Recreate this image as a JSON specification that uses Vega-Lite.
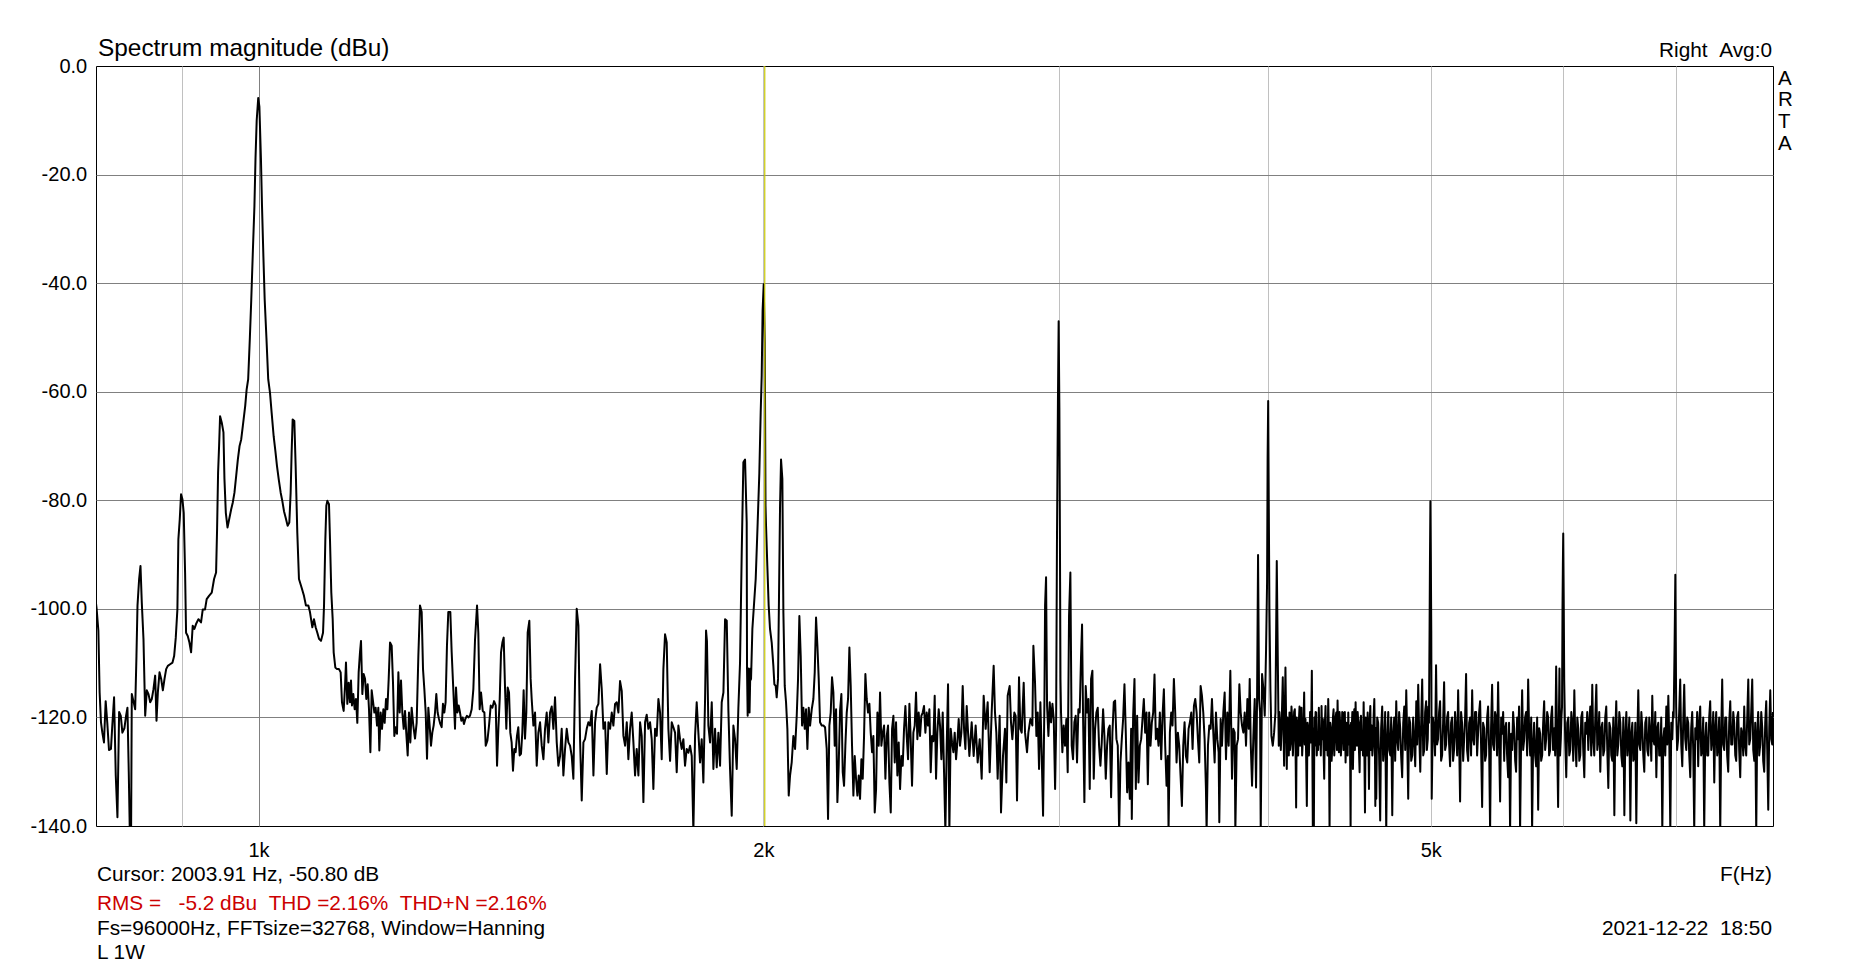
{
  "$schema": "https://vega.github.io/schema/vega-lite/v6.json",
  "width": 1677,
  "height": 760,
  "autosize": {"type": "none"},
  "padding": {"left": 96, "top": 66, "right": 95, "bottom": 143},
  "background": "#ffffff",
  "config": {
    "view": {"stroke": "#000000", "strokeWidth": 1},
    "font": "Liberation Sans",
    "axis": {"labelFont": "Liberation Sans", "labelColor": "#000000", "domain": false, "ticks": false, "tickSize": 0, "title": null, "gridWidth": 1},
    "text": {"font": "Liberation Sans", "color": "#000000"}
  },
  "datasets": {
    "spectrum": [
      {"f":800.0,"v":-99},{"f":800.7,"v":-100},{"f":802.6,"v":-104},{"f":804.0,"v":-115.4},{"f":805.5,"v":-120.9},{"f":807.0,"v":-122.8},{"f":808.8,"v":-124.6},{"f":810.7,"v":-117},{"f":812.5,"v":-121},{"f":814.4,"v":-126},{"f":816.6,"v":-125.8},{"f":818.1,"v":-121.5},{"f":820.1,"v":-116.3},{"f":822.0,"v":-130.7},{"f":823.9,"v":-138.4},{"f":825.8,"v":-119},{"f":827.7,"v":-119.7},{"f":829.5,"v":-122.8},{"f":831.8,"v":-122},{"f":833.7,"v":-119.7},{"f":835.3,"v":-118.2},{"f":836.8,"v":-130},{"f":838.0,"v":-141},{"f":839.5,"v":-141},{"f":840.3,"v":-115.7},{"f":842.2,"v":-117},{"f":844.2,"v":-118.5},{"f":845.7,"v":-108.7},{"f":846.9,"v":-99.4},{"f":848.8,"v":-94.5},{"f":850.4,"v":-92.1},{"f":851.9,"v":-98.8},{"f":853.9,"v":-105.6},{"f":855.9,"v":-119.7},{"f":857.8,"v":-115},{"f":859.8,"v":-115.7},{"f":861.8,"v":-117.2},{"f":863.7,"v":-116.6},{"f":865.7,"v":-114.8},{"f":867.7,"v":-112.3},{"f":869.3,"v":-120.6},{"f":870.9,"v":-115.4},{"f":872.9,"v":-111.7},{"f":874.9,"v":-112.9},{"f":876.9,"v":-115},{"f":878.9,"v":-112.9},{"f":880.9,"v":-111.1},{"f":882.9,"v":-110.5},{"f":885.7,"v":-110.2},{"f":888.6,"v":-109.9},{"f":890.6,"v":-108.7},{"f":892.6,"v":-105.3},{"f":894.6,"v":-100.1},{"f":895.8,"v":-87.2},{"f":897.5,"v":-83.5},{"f":899.1,"v":-78.9},{"f":900.8,"v":-79.8},{"f":902.4,"v":-82.3},{"f":904.1,"v":-93.3},{"f":905.3,"v":-104.4},{"f":907.4,"v":-105},{"f":909.5,"v":-106.2},{"f":911.6,"v":-108},{"f":913.6,"v":-103.1},{"f":915.7,"v":-103.7},{"f":917.8,"v":-102.8},{"f":920.8,"v":-101.9},{"f":924.1,"v":-102.5},{"f":926.3,"v":-100.1},{"f":929.2,"v":-100.1},{"f":931.3,"v":-98.2},{"f":934.3,"v":-97.6},{"f":937.8,"v":-97},{"f":940.8,"v":-94.5},{"f":943.4,"v":-93.3},{"f":944.7,"v":-85.3},{"f":946.0,"v":-74.9},{"f":947.3,"v":-70},{"f":948.6,"v":-64.5},{"f":950.8,"v":-65.7},{"f":953.0,"v":-67.5},{"f":954.3,"v":-76.1},{"f":956.1,"v":-82.3},{"f":958.3,"v":-85},{"f":960.5,"v":-83.5},{"f":963.1,"v":-81.7},{"f":965.3,"v":-80.4},{"f":967.5,"v":-78.6},{"f":969.8,"v":-75.5},{"f":972.0,"v":-72.5},{"f":974.3,"v":-70},{"f":976.5,"v":-68.8},{"f":978.7,"v":-66.3},{"f":981.9,"v":-62.6},{"f":983.8,"v":-59.6},{"f":985.9,"v":-57.7},{"f":988.2,"v":-50},{"f":990.1,"v":-43},{"f":992.3,"v":-34},{"f":994.4,"v":-25.8},{"f":995.9,"v":-16.9},{"f":997.5,"v":-10},{"f":999.6,"v":-5.9},{"f":1001.2,"v":-7.5},{"f":1003.3,"v":-16.9},{"f":1004.8,"v":-25.8},{"f":1006.7,"v":-35},{"f":1008.5,"v":-43},{"f":1010.9,"v":-50},{"f":1013.4,"v":-57.7},
      {"f":1015.9,"v":-60.2},{"f":1018.2,"v":-63.9},{"f":1021.0,"v":-68.2},{"f":1023.4,"v":-70.9},{"f":1025.7,"v":-73.7},{"f":1028.1,"v":-76.1},{"f":1030.9,"v":-78.6},{"f":1033.2,"v":-80.1},{"f":1035.6,"v":-82},{"f":1038.0,"v":-83.2},{"f":1040.8,"v":-84.7},{"f":1043.2,"v":-84.1},{"f":1045.1,"v":-78.6},{"f":1046.5,"v":-71.2},{"f":1048.0,"v":-65.1},{"f":1050.4,"v":-65.4},{"f":1052.3,"v":-73.7},{"f":1054.7,"v":-86},{"f":1057.1,"v":-94.5},{"f":1061.0,"v":-96.1},{"f":1064.4,"v":-97.6},{"f":1067.3,"v":-99.4},{"f":1070.8,"v":-99.4},{"f":1073.2,"v":-100.6},{"f":1076.7,"v":-103.4},{"f":1079.1,"v":-101.9},{"f":1081.6,"v":-103.4},{"f":1084.1,"v":-104.4},{"f":1086.6,"v":-105.5},{"f":1089.6,"v":-105.9},{"f":1092.6,"v":-104.4},{"f":1094.1,"v":-99.4},{"f":1096.1,"v":-87.2},{"f":1097.6,"v":-81},{"f":1099.1,"v":-80.1},{"f":1101.6,"v":-80.7},{"f":1103.1,"v":-87.2},{"f":1105.1,"v":-97},{"f":1107.2,"v":-101.9},{"f":1108.7,"v":-108},{"f":1111.2,"v":-110.8},{"f":1113.8,"v":-111.1},{"f":1116.8,"v":-111.1},{"f":1119.4,"v":-111.7},{"f":1121.4,"v":-117.2},{"f":1124.0,"v":-118.8},{"f":1126.1,"v":-114.2},{"f":1127.6,"v":-109.9},{"f":1129.7,"v":-117.5},{"f":1131.8,"v":-113.6},{"f":1133.8,"v":-117.2},{"f":1135.4,"v":-113.2},{"f":1136.9,"v":-117.8},{"f":1139.0,"v":-115.7},{"f":1141.1,"v":-118.5},{"f":1143.2,"v":-116.6},{"f":1145.3,"v":-121},{"f":1147.4,"v":-111.7},{"f":1149.5,"v":-108},{"f":1151.1,"v":-105.9},{"f":1153.2,"v":-115.7},{"f":1155.3,"v":-112},{"f":1157.5,"v":-112.9},{"f":1159.5,"v":-116.6},{"f":1161.7,"v":-113.9},{"f":1163.8,"v":-118.5},{"f":1166.0,"v":-126.4},{"f":1168.1,"v":-115},{"f":1170.2,"v":-117},{"f":1172.4,"v":-119.1},{"f":1174.5,"v":-118.2},{"f":1176.7,"v":-121.5},{"f":1178.8,"v":-118.2},{"f":1180.4,"v":-126.1},{"f":1182.6,"v":-119.1},{"f":1184.8,"v":-122.1},{"f":1187.0,"v":-118.5},{"f":1189.1,"v":-121},{"f":1191.3,"v":-116.6},{"f":1193.5,"v":-118.5},{"f":1195.7,"v":-112.9},{"f":1197.9,"v":-106.2},{"f":1200.6,"v":-106.8},{"f":1202.8,"v":-113.6},{"f":1205.0,"v":-123.4},{"f":1207.2,"v":-121.8},{"f":1209.4,"v":-123},{"f":1211.7,"v":-111.7},{"f":1213.9,"v":-119.1},{"f":1216.1,"v":-113.2},{"f":1218.3,"v":-119.1},{"f":1220.6,"v":-122.1},{"f":1222.8,"v":-118.8},{"f":1225.0,"v":-123},{"f":1227.3,"v":-127},{"f":1229.5,"v":-119.1},{"f":1231.8,"v":-124.6},{"f":1234.0,"v":-118.2},{"f":1236.8,"v":-121.5},{"f":1239.7,"v":-123.9},{"f":1242.5,"v":-121},{"f":1245.4,"v":-108.7},{"f":1248.2,"v":-99.4},{"f":1251.1,"v":-100.6},{"f":1253.4,"v":-111.1},{"f":1255.7,"v":-114.8},{"f":1258.0,"v":-119.1},{"f":1260.3,"v":-127.6},{"f":1262.6,"v":-118.2},{"f":1264.9,"v":-121.5},{"f":1267.2,"v":-125.2},{"f":1269.5,"v":-122.8},{"f":1271.8,"v":-121.5},{"f":1274.2,"v":-119.1},{"f":1276.5,"v":-115.7},{"f":1278.8,"v":-119.1},{"f":1281.2,"v":-120.3},{"f":1283.5,"v":-121.2},{"f":1285.9,"v":-121.8},{"f":1288.2,"v":-117.5},{"f":1290.6,"v":-119.1},{"f":1292.9,"v":-117.2},{"f":1295.3,"v":-106.8},{"f":1297.7,"v":-100.6},{"f":1301.3,"v":-100.6},{"f":1303.7,"v":-108},{"f":1306.7,"v":-115},{"f":1309.7,"v":-122.1},{"f":1311.5,"v":-114.5},{"f":1313.9,"v":-119.1},{"f":1316.3,"v":-117.8},{"f":1318.7,"v":-119.1},{"f":1321.1,"v":-120.6},{"f":1323.5,"v":-120},{"f":1325.9,"v":-121.2},{"f":1328.4,"v":-120.3},{"f":1331.4,"v":-119.7},{"f":1333.9,"v":-120},{"f":1336.9,"v":-119.7},{"f":1340.0,"v":-118.5},{"f":1343.1,"v":-114.8},{"f":1346.2,"v":-105.6},{"f":1349.9,"v":-99.4},{"f":1352.3,"v":-104.4},{"f":1354.8,"v":-118.5},{"f":1357.3,"v":-115.4},{"f":1360.5,"v":-118.8},{"f":1363.6,"v":-119.1},{"f":1366.1,"v":-125.2},{"f":1369.2,"v":-124.3},{"f":1372.3,"v":-121.5},{"f":1375.5,"v":-117.8},{"f":1378.6,"v":-118.2},{"f":1381.8,"v":-117},{"f":1385.0,"v":-117.8},{"f":1387.5,"v":-128.9},{"f":1390.0,"v":-122.1},{"f":1392.6,"v":-116.6},{"f":1395.1,"v":-108},{"f":1397.7,"v":-106.2},{"f":1400.2,"v":-105.3},{"f":1402.7,"v":-114.2},{"f":1405.3,"v":-122.1},{"f":1407.9,"v":-114.5},{"f":1410.5,"v":-115.4},{"f":1413.0,"v":-122.8},{"f":1415.6,"v":-124.6},{"f":1418.2,"v":-129.8},{"f":1420.8,"v":-125.8},{"f":1423.4,"v":-126.4},{"f":1426.0,"v":-123.4},{"f":1428.6,"v":-121.8},{"f":1431.3,"v":-127},{"f":1433.9,"v":-126.7},{"f":1436.5,"v":-122.8},{"f":1439.1,"v":-115},{"f":1441.8,"v":-123.9},{"f":1444.4,"v":-119.1},{"f":1447.1,"v":-104.4},{"f":1450.4,"v":-102.2},{"f":1453.0,"v":-112.9},
      {"f":1455.1,"v":-116.6},{"f":1458.5,"v":-121.5},{"f":1461.8,"v":-119.1},{"f":1465.2,"v":-128.9},{"f":1468.5,"v":-122.8},{"f":1471.9,"v":-120.9},{"f":1475.3,"v":-125.2},{"f":1478.7,"v":-127.7},{"f":1482.0,"v":-122.1},{"f":1485.4,"v":-119.1},{"f":1488.8,"v":-124.6},{"f":1492.2,"v":-119.1},{"f":1495.7,"v":-118},{"f":1499.1,"v":-122.1},{"f":1502.5,"v":-116.3},{"f":1506.0,"v":-124.6},{"f":1509.4,"v":-128.9},{"f":1512.9,"v":-127.1},{"f":1516.3,"v":-122.1},{"f":1519.8,"v":-130.7},{"f":1523.3,"v":-125.8},{"f":1526.8,"v":-122.1},{"f":1530.3,"v":-124.6},{"f":1533.8,"v":-125.2},{"f":1537.3,"v":-127.1},{"f":1540.8,"v":-131.3},{"f":1544.4,"v":-112.9},{"f":1547.9,"v":-100},{"f":1551.5,"v":-103.1},{"f":1555.0,"v":-124},{"f":1558.6,"v":-135.3},{"f":1562.2,"v":-124.6},{"f":1565.7,"v":-124},{"f":1569.3,"v":-122.1},{"f":1572.9,"v":-120.9},{"f":1576.5,"v":-121.5},{"f":1580.2,"v":-118.8},{"f":1583.8,"v":-130.7},{"f":1587.4,"v":-120.9},{"f":1591.0,"v":-118.2},{"f":1594.7,"v":-117.5},{"f":1598.4,"v":-110.2},{"f":1602.0,"v":-114.8},{"f":1605.7,"v":-122.1},{"f":1609.4,"v":-120.9},{"f":1613.1,"v":-130.4},{"f":1616.8,"v":-120.9},{"f":1620.5,"v":-122.1},{"f":1624.2,"v":-119.1},{"f":1627.8,"v":-121.5},{"f":1631.6,"v":-117.5},{"f":1635.3,"v":-117.2},{"f":1639.1,"v":-119.1},{"f":1642.8,"v":-113.3},{"f":1646.6,"v":-115.1},{"f":1650.4,"v":-123.4},{"f":1654.2,"v":-125.2},{"f":1658.0,"v":-120.9},{"f":1661.7,"v":-127.7},{"f":1665.5,"v":-122.1},{"f":1669.3,"v":-119.1},{"f":1673.2,"v":-124.6},{"f":1677.0,"v":-130.7},{"f":1680.8,"v":-125.8},{"f":1684.7,"v":-130.7},{"f":1688.6,"v":-120.9},{"f":1692.4,"v":-123.4},{"f":1696.3,"v":-135.6},{"f":1700.2,"v":-120.9},{"f":1704.0,"v":-119.5},{"f":1707.9,"v":-122.1},{"f":1711.9,"v":-120.9},{"f":1715.8,"v":-124},{"f":1719.7,"v":-133.2},{"f":1723.7,"v":-122.1},{"f":1727.6,"v":-123.4},{"f":1731.6,"v":-116.6},{"f":1735.6,"v":-119.1},{"f":1739.5,"v":-127.7},{"f":1743.5,"v":-111.1},{"f":1747.5,"v":-104.7},{"f":1751.5,"v":-106.2},{"f":1755.5,"v":-122.1},{"f":1759.6,"v":-128},{"f":1763.6,"v":-120.9},{"f":1767.6,"v":-121.8},{"f":1771.7,"v":-122.8},{"f":1775.7,"v":-130.1},{"f":1779.8,"v":-121.5},{"f":1783.8,"v":-124},{"f":1787.9,"v":-125.8},{"f":1792.0,"v":-124},{"f":1796.1,"v":-128.9},{"f":1800.2,"v":-125.8},{"f":1804.4,"v":-126.5},{"f":1808.5,"v":-125.2},{"f":1812.7,"v":-127.1},{"f":1816.8,"v":-141},{"f":1821.0,"v":-123.4},{"f":1825.1,"v":-117.2},{"f":1829.3,"v":-122.8},{"f":1833.5,"v":-128.3},{"f":1837.7,"v":-124},{"f":1841.9,"v":-132},{"f":1846.2,"v":-116.6},{"f":1848.7,"v":-104},{"f":1851.0,"v":-106},{"f":1854.6,"v":-121.5},{"f":1858.9,"v":-124.6},{"f":1863.2,"v":-117.2},{"f":1867.4,"v":-129.5},{"f":1871.7,"v":-122.1},{"f":1876.0,"v":-129.2},{"f":1880.3,"v":-122.8},{"f":1884.6,"v":-128.9},{"f":1888.9,"v":-117.2},{"f":1893.3,"v":-115.4},{"f":1897.6,"v":-101.9},{"f":1902.0,"v":-102.2},{"f":1906.3,"v":-118.8},{"f":1910.6,"v":-129.5},{"f":1915.0,"v":-138.1},{"f":1919.4,"v":-121.5},{"f":1923.8,"v":-124},{"f":1928.2,"v":-129.5},{"f":1932.6,"v":-118.2},{"f":1937.0,"v":-109.9},{"f":1941.5,"v":-89.6},{"f":1945.9,"v":-73},{"f":1950.4,"v":-72.5},{"f":1954.8,"v":-84.1},{"f":1955.7,"v":-111.1},{"f":1957.4,"v":-119.7},{"f":1959.3,"v":-111},{"f":1962.5,"v":-119.1},{"f":1964.7,"v":-111},{"f":1966.5,"v":-113},{"f":1970.1,"v":-103.7},{"f":1979.1,"v":-94.5},{"f":1984.5,"v":-84.1},{"f":1989.0,"v":-75},{"f":1992.7,"v":-63.9},{"f":1995.5,"v":-57},{"f":1998.0,"v":-45},{"f":2001.0,"v":-40.2},{"f":2003.9,"v":-50.8},{"f":2006.0,"v":-81},{"f":2007.4,"v":-84.7},{"f":2011.0,"v":-92.1},{"f":2014.7,"v":-99.4},{"f":2018.4,"v":-103.7},{"f":2023.1,"v":-106.2},{"f":2027.7,"v":-110.5},{"f":2030.5,"v":-113.9},{"f":2034.2,"v":-114.2},{"f":2037.0,"v":-116.3},{"f":2040.7,"v":-112.9},{"f":2043.5,"v":-97.6},{"f":2046.4,"v":-81},{"f":2049.2,"v":-72.5},{"f":2052.9,"v":-76.1},{"f":2055.8,"v":-100.7},{"f":2059.6,"v":-114.2},{"f":2063.3,"v":-117.2},{"f":2067.1,"v":-122.1},{"f":2070.9,"v":-134.4},{"f":2074.7,"v":-130.7},{"f":2079.4,"v":-128.3},{"f":2084.2,"v":-123.4},{"f":2089.0,"v":-125.8},{"f":2093.8,"v":-119.7},{"f":2097.6,"v":-112.9},{"f":2101.4,"v":-101.3},{"f":2105.3,"v":-108.7},{"f":2109.2,"v":-121.5},{"f":2113.0,"v":-118.2},{"f":2116.9,"v":-122.1},{"f":2120.8,"v":-118.5},{"f":2124.7,"v":-125.8},{"f":2128.6,"v":-118.2},{"f":2132.5,"v":-121.5},{"f":2137.4,"v":-118.5},{"f":2142.2,"v":-116.6},{"f":2146.2,"v":-111.7},{"f":2150.1,"v":-101.6},{"f":2154.1,"v":-106.8},{"f":2158.0,"v":-112.9},{"f":2161.9,"v":-120.9},{"f":2166.9,"v":-121.5},{"f":2171.9,"v":-121.5},{"f":2176.8,"v":-121.8},{"f":2181.8,"v":-125.8},{"f":2185.8,"v":-138.7},{"f":2189.8,"v":-121.5},{"f":2193.8,"v":-119.1},{"f":2197.8,"v":-112.6},{"f":2201.9,"v":-115.4},{"f":2205.9,"v":-125.2},{"f":2210.0,"v":-118.5},{"f":2214.0,"v":-135.6},{"f":2218.0,"v":-128.9},{"f":2222.1,"v":-118.8},{"f":2226.2,"v":-115.7},{"f":2230.3,"v":-130.1},{"f":2234.4,"v":-132.6},{"f":2238.4,"v":-125.2},{"f":2242.6,"v":-119.1},{"f":2246.7,"v":-116.6},{"f":2250.8,"v":-107.1},{"f":2254.9,"v":-114.2},{"f":2259.0,"v":-125.2},{"f":2263.2,"v":-134.4},{"f":2267.4,"v":-127.1},{"f":2271.5,"v":-131.3},{"f":2275.7,"v":-134.4},{"f":2279.8,"v":-130.7},{"f":2284.0,"v":-135},{"f":2288.2,"v":-127.7},{"f":2292.4,"v":-131.3},{"f":2296.6,"v":-123.4},{"f":2300.8,"v":-112},{"f":2305.0,"v":-116.6},{"f":2309.2,"v":-119.1},{"f":2313.5,"v":-117.5},{"f":2317.7,"v":-122.8},{"f":2322.0,"v":-126.4},{"f":2326.2,"v":-123.4},{"f":2330.5,"v":-137.5},{"f":2334.8,"v":-133.2},{"f":2339.1,"v":-119.1},{"f":2343.4,"v":-125.2},{"f":2347.6,"v":-115.4},{"f":2351.9,"v":-125.2},{"f":2356.3,"v":-122.8},{"f":2360.6,"v":-121.5},{"f":2364.9,"v":-131.3},{"f":2369.2,"v":-123.4},{"f":2373.5,"v":-121.5},{"f":2377.9,"v":-132},{"f":2382.3,"v":-137.5},{"f":2386.6,"v":-122.1},{"f":2391.0,"v":-119.7},{"f":2395.4,"v":-128.3},{"f":2399.7,"v":-120.9},{"f":2404.1,"v":-130.7},{"f":2408.5,"v":-124.6},{"f":2413.0,"v":-133.2},{"f":2417.4,"v":-127.1},{"f":2421.8,"v":-128.9},{"f":2426.2,"v":-122.1},{"f":2430.7,"v":-117.9},{"f":2435.1,"v":-123.4},{"f":2439.6,"v":-127.7},{"f":2444.1,"v":-117.5},{"f":2448.5,"v":-124},{"f":2453.0,"v":-132.6},{"f":2457.5,"v":-122.8},{"f":2462.0,"v":-121.5},{"f":2466.5,"v":-115.4},{"f":2471.0,"v":-124},{"f":2475.5,"v":-119.1},{"f":2480.1,"v":-123.4},{"f":2484.6,"v":-119.7},{"f":2489.2,"v":-119.1},{"f":2493.7,"v":-117.9},{"f":2498.3,"v":-122.8},{"f":2502.9,"v":-119.1},{"f":2507.5,"v":-121.5},{"f":2512.1,"v":-118.5},{"f":2516.7,"v":-130.1},{"f":2521.3,"v":-123.4},{"f":2525.9,"v":-124.4},{"f":2530.5,"v":-116},{"f":2535.2,"v":-131.3},{"f":2539.8,"v":-122.8},{"f":2544.5,"v":-118.5},{"f":2549.1,"v":-121.5},{"f":2553.8,"v":-127.7},{"f":2558.5,"v":-119.1},{"f":2563.2,"v":-130.1},{"f":2567.9,"v":-141},{"f":2572.6,"v":-125.2},{"f":2577.3,"v":-113.9},{"f":2582.0,"v":-141},{"f":2586.8,"v":-122.1},{"f":2591.5,"v":-124.6},{"f":2596.2,"v":-126.4},{"f":2601.0,"v":-122.8},{"f":2605.8,"v":-127.7},{"f":2610.5,"v":-124.6},{"f":2615.3,"v":-120.3},{"f":2620.1,"v":-125.2},{"f":2624.9,"v":-122.8},{"f":2629.7,"v":-114.2},{"f":2634.6,"v":-122.1},{"f":2639.4,"v":-125.8},{"f":2644.2,"v":-117.9},{"f":2649.1,"v":-122.8},{"f":2653.9,"v":-127.1},
      {"f":2662.3,"v":-120.9},{"f":2669.6,"v":-127.1},{"f":2676.9,"v":-121.5},{"f":2684.3,"v":-128.3},{"f":2691.7,"v":-124},{"f":2699.1,"v":-131.3},{"f":2706.5,"v":-116},{"f":2713.9,"v":-122.1},{"f":2721.4,"v":-117.2},{"f":2728.9,"v":-130.1},{"f":2736.4,"v":-119.1},{"f":2743.9,"v":-110.5},{"f":2748.9,"v":-119.1},{"f":2754.0,"v":-122.8},{"f":2759.0,"v":-131.3},{"f":2766.6,"v":-119.7},{"f":2771.7,"v":-137.5},{"f":2779.3,"v":-127.1},{"f":2786.9,"v":-122.1},{"f":2792.1,"v":-132},{"f":2797.2,"v":-116},{"f":2804.9,"v":-114.2},{"f":2810.0,"v":-120.9},{"f":2815.2,"v":-124},{"f":2822.9,"v":-119.1},{"f":2828.1,"v":-119.7},{"f":2833.3,"v":-135.3},{"f":2841.1,"v":-112.6},{"f":2846.3,"v":-122.1},{"f":2851.6,"v":-122.8},{"f":2859.4,"v":-113.6},{"f":2864.7,"v":-122.8},{"f":2872.5,"v":-126.4},{"f":2877.8,"v":-122.8},{"f":2885.7,"v":-120.3},{"f":2893.7,"v":-121.5},{"f":2897.7,"v":-106.8},{"f":2904.3,"v":-113.6},{"f":2909.7,"v":-123.4},{"f":2915.0,"v":-119.1},{"f":2920.3,"v":-129.5},{"f":2925.7,"v":-117.2},{"f":2931.1,"v":-127.1},{"f":2936.5,"v":-138.1},{"f":2941.9,"v":-117.2},{"f":2944.6,"v":-99.4},{"f":2948.6,"v":-94.2},{"f":2952.7,"v":-117.9},{"f":2958.1,"v":-123.4},{"f":2963.5,"v":-117.2},{"f":2969.0,"v":-120.9},{"f":2974.5,"v":-117.5},{"f":2979.9,"v":-120.3},{"f":2985.4,"v":-133.2},{"f":2989.5,"v":-122.1},{"f":2993.0,"v":-88},{"f":2997.0,"v":-62},{"f":3000.0,"v":-47},{"f":3003.0,"v":-63},{"f":3006.0,"v":-95},{"f":3007.5,"v":-113},{"f":3009.8,"v":-119.1},{"f":3015.3,"v":-126.4},{"f":3020.8,"v":-121.5},{"f":3026.4,"v":-125.2},{"f":3031.9,"v":-120.3},{"f":3037.5,"v":-130.1},{"f":3043.1,"v":-101.3},{"f":3048.7,"v":-93.3},{"f":3054.3,"v":-125.2},{"f":3059.8,"v":-127.7},{"f":3065.5,"v":-120.9},{"f":3071.1,"v":-119.7},{"f":3076.7,"v":-128.3},{"f":3082.4,"v":-118.5},{"f":3088.0,"v":-119.1},{"f":3093.7,"v":-108.7},{"f":3098.0,"v":-102.9},{"f":3102.2,"v":-119.7},{"f":3107.9,"v":-135.6},{"f":3113.6,"v":-114.2},{"f":3119.4,"v":-119.1},{"f":3125.1,"v":-116.6},{"f":3130.8,"v":-133.2},{"f":3136.6,"v":-112.9},{"f":3142.3,"v":-111.4},{"f":3148.1,"v":-131.3},{"f":3153.9,"v":-122.1},{"f":3159.6,"v":-119.1},{"f":3165.4,"v":-118.2},{"f":3171.2,"v":-125.2},{"f":3177.1,"v":-128.9},{"f":3182.9,"v":-124.6},{"f":3188.8,"v":-118.5},{"f":3194.6,"v":-123.4},{"f":3200.5,"v":-131.3},{"f":3206.3,"v":-125.2},{"f":3212.2,"v":-122.1},{"f":3218.1,"v":-121.5},{"f":3224.0,"v":-134.7},{"f":3229.9,"v":-122.8},{"f":3235.9,"v":-117.2},{"f":3241.8,"v":-116.9},{"f":3247.7,"v":-124},{"f":3253.7,"v":-125.2},{"f":3259.7,"v":-141},{"f":3265.7,"v":-128.3},{"f":3271.7,"v":-124},{"f":3277.7,"v":-120.3},{"f":3283.7,"v":-113.9},{"f":3289.7,"v":-122.8},{"f":3295.8,"v":-133.8},{"f":3301.8,"v":-128.3},{"f":3307.9,"v":-135},{"f":3314.0,"v":-122.1},{"f":3317.0,"v":-138.7},{"f":3323.1,"v":-119.7},{"f":3329.2,"v":-112.9},{"f":3335.3,"v":-133.2},{"f":3341.4,"v":-119.7},{"f":3347.5,"v":-132},{"f":3353.7,"v":-125.2},{"f":3359.9,"v":-124},{"f":3366.0,"v":-120.3},{"f":3372.2,"v":-116.6},{"f":3378.4,"v":-122.8},{"f":3384.6,"v":-119.1},{"f":3390.8,"v":-132.3},{"f":3397.0,"v":-119.1},{"f":3403.3,"v":-125.2},{"f":3409.5,"v":-120.9},{"f":3415.8,"v":-119.1},{"f":3422.0,"v":-112.1},{"f":3428.3,"v":-124},{"f":3434.6,"v":-122.1},{"f":3440.9,"v":-125.2},{"f":3447.2,"v":-119.1},{"f":3453.6,"v":-127.7},{"f":3459.9,"v":-119.7},{"f":3466.3,"v":-114.8},{"f":3472.6,"v":-125.2},{"f":3479.0,"v":-132.6},{"f":3485.4,"v":-127.1},{"f":3488.6,"v":-141},{"f":3495.0,"v":-122.8},{"f":3501.4,"v":-119.1},{"f":3507.8,"v":-121.5},{"f":3514.3,"v":-112.9},{"f":3520.7,"v":-119.1},{"f":3527.2,"v":-128.3},{"f":3533.7,"v":-122.8},{"f":3540.1,"v":-125.2},{"f":3546.6,"v":-130.7},{"f":3553.2,"v":-136.3},{"f":3559.7,"v":-125.2},{"f":3566.2,"v":-120.9},{"f":3572.8,"v":-127.1},{"f":3579.3,"v":-128.3},{"f":3585.9,"v":-122.1},{"f":3592.5,"v":-120.9},{"f":3599.1,"v":-119.1},{"f":3605.7,"v":-125.8},{"f":3612.3,"v":-117.9},{"f":3618.9,"v":-116.6},{"f":3625.6,"v":-119.1},{"f":3632.2,"v":-124},{"f":3638.9,"v":-128.3},{"f":3645.6,"v":-114.2},{"f":3652.3,"v":-116},{"f":3659.0,"v":-119.1},{"f":3665.7,"v":-124},{"f":3672.4,"v":-133.2},{"f":3675.8,"v":-141},{"f":3682.6,"v":-125.2},{"f":3689.3,"v":-121.5},{"f":3696.1,"v":-122.1},{"f":3702.9,"v":-116.6},{"f":3709.7,"v":-122.8},{"f":3716.5,"v":-128.3},{"f":3723.3,"v":-119.1},{"f":3730.2,"v":-124},{"f":3737.0,"v":-126.4},{"f":3740.4,"v":-139.3},{"f":3747.3,"v":-120.3},{"f":3754.2,"v":-125.2},{"f":3761.1,"v":-119.1},{"f":3768.0,"v":-115.4},{"f":3774.9,"v":-127.7},{"f":3781.8,"v":-119.1},{"f":3788.8,"v":-125.2},{"f":3797.5,"v":-111.4},{"f":3806.2,"v":-131.3},{"f":3813.2,"v":-122.1},{"f":3820.2,"v":-122.8},{"f":3823.7,"v":-141},{"f":3830.7,"v":-125.2},{"f":3837.8,"v":-124},{"f":3844.8,"v":-113.9},{"f":3851.8,"v":-119.1},{"f":3858.9,"v":-121.5},{"f":3866.0,"v":-122.8},{"f":3873.1,"v":-119.1},{"f":3880.2,"v":-125.2},{"f":3887.4,"v":-116.6},{"f":3894.5,"v":-122.1},{"f":3899.9,"v":-112.9},{"f":3905.2,"v":-124.6},{"f":3912.4,"v":-132.6},{"f":3919.6,"v":-123.4},{"f":3926.8,"v":-116.6},{"f":3934.0,"v":-132.9},{"f":3939.4,"v":-116.9},{"f":3944.8,"v":-90.1},{"f":3950.3,"v":-116.6},{"f":3955.7,"v":-119.1},{"f":3959.3,"v":-141},{"f":3966.6,"v":-112},{"f":3973.9,"v":-114.8},{"f":3981.2,"v":-119.7},{"f":3988.5,"v":-107.4},{"f":3994.0,"v":-95},{"f":3997.0,"v":-72},{"f":4000.0,"v":-61.7},{"f":4003.0,"v":-79},{"f":4006.8,"v":-100},{"f":4012.3,"v":-114.8},{"f":4017.9,"v":-123.4},{"f":4025.3,"v":-125.2},{"f":4032.7,"v":-122.8},{"f":4040.1,"v":-119.1},{"f":4047.5,"v":-91.2},{"f":4053.0,"v":-108.7},{"f":4058.6,"v":-125.2},
      {"f":4062,"v":-119},{"f":4066.1,"v":-121.5},{"f":4070,"v":-126},{"f":4073.5,"v":-122.8},{"f":4077,"v":-118},{"f":4081.0,"v":-112.6},{"f":4085,"v":-122},{"f":4088.5,"v":-128.9},{"f":4092,"v":-120},{"f":4096.0,"v":-110.8},{"f":4100,"v":-121},{"f":4103.6,"v":-129.5},{"f":4107,"v":-120},{"f":4111.1,"v":-124},{"f":4115,"v":-127},{"f":4118.7,"v":-119.1},{"f":4122,"v":-126},{"f":4126.2,"v":-124.6},{"f":4130,"v":-118},{"f":4133.8,"v":-120.3},{"f":4138,"v":-127},{"f":4141.4,"v":-124},{"f":4145,"v":-119},{"f":4149.0,"v":-118.5},{"f":4153,"v":-125},{"f":4156.6,"v":-136.6},{"f":4160,"v":-120},{"f":4164.2,"v":-122.8},{"f":4168,"v":-127},{"f":4171.9,"v":-120.9},{"f":4176,"v":-118},{"f":4179.5,"v":-125.2},{"f":4183,"v":-120},{"f":4187.2,"v":-118.2},{"f":4191,"v":-127},{"f":4194.9,"v":-124},{"f":4199,"v":-121},{"f":4202.6,"v":-115.4},{"f":4206,"v":-125},{"f":4210.3,"v":-120.3},{"f":4214,"v":-127},{"f":4218.1,"v":-136.3},{"f":4222,"v":-121},{"f":4225.8,"v":-122.1},{"f":4230,"v":-127},{"f":4233.6,"v":-123.4},{"f":4237,"v":-119},{"f":4241.4,"v":-124.6},{"f":4244,"v":-120},{"f":4247.2,"v":-111.4},{"f":4250,"v":-125},{"f":4253.0,"v":-141},{"f":4256,"v":-122},{"f":4258.9,"v":-141},{"f":4262,"v":-120},{"f":4264.8,"v":-125.2},{"f":4269,"v":-119},{"f":4272.6,"v":-119.1},{"f":4276,"v":-127},{"f":4280.4,"v":-122.8},{"f":4284,"v":-126},{"f":4288.3,"v":-118.2},{"f":4292,"v":-125},{"f":4296.2,"v":-122.1},{"f":4300,"v":-127},{"f":4304.1,"v":-117.9},{"f":4308,"v":-124},{"f":4312.0,"v":-120.3},{"f":4316,"v":-126},{"f":4319.9,"v":-131.3},{"f":4324,"v":-121},{"f":4327.8,"v":-117.9},{"f":4332,"v":-126},{"f":4335.8,"v":-122.8},{"f":4340,"v":-127},{"f":4343.8,"v":-116.6},{"f":4348,"v":-123},{"f":4351.7,"v":-141},{"f":4356,"v":-121},{"f":4359.7,"v":-122.1},{"f":4364,"v":-128},{"f":4367.7,"v":-125.8},{"f":4372,"v":-120},{"f":4375.8,"v":-118.5},{"f":4380,"v":-127},{"f":4383.8,"v":-124},{"f":4388,"v":-120},{"f":4391.9,"v":-119.1},{"f":4396,"v":-126},{"f":4399.9,"v":-116.9},{"f":4404,"v":-124},{"f":4408.0,"v":-126.4},{"f":4412,"v":-119},{"f":4416.1,"v":-121.5},{"f":4420,"v":-127},{"f":4424.2,"v":-124},{"f":4428,"v":-119},{"f":4432.3,"v":-119.1},{"f":4436,"v":-126},{"f":4440.5,"v":-122.8},{"f":4444,"v":-119},{"f":4448.6,"v":-128.3},{"f":4453,"v":-121},{"f":4456.8,"v":-123.4},{"f":4461,"v":-127},{"f":4465.0,"v":-119.1},{"f":4469,"v":-125},{"f":4473.2,"v":-121.5},{"f":4476,"v":-125},{"f":4479.3,"v":-141},{"f":4482,"v":-121},{"f":4485.5,"v":-122.8},{"f":4490,"v":-119},{"f":4493.7,"v":-129.5},{"f":4498,"v":-122},{"f":4502.0,"v":-118.5},{"f":4506,"v":-126},{"f":4510.2,"v":-117.2},{"f":4514,"v":-123},{"f":4518.5,"v":-125.2},{"f":4523,"v":-119},{"f":4526.8,"v":-120.9},{"f":4531,"v":-126},{"f":4535.1,"v":-130.1},{"f":4539,"v":-121},{"f":4543.5,"v":-119.7},{"f":4548,"v":-126},{"f":4551.8,"v":-122.8},{"f":4556,"v":-127},{"f":4560.2,"v":-117.2},{"f":4564,"v":-124},{"f":4568.6,"v":-137.5},{"f":4573,"v":-120},{"f":4577.0,"v":-122.8},{"f":4581,"v":-127},{"f":4585.4,"v":-119.1},{"f":4590,"v":-124},{"f":4593.8,"v":-133.2},{"f":4598,"v":-121},{"f":4602.2,"v":-117.9},{"f":4606,"v":-126},{"f":4610.7,"v":-121.5},{"f":4615,"v":-127},{"f":4619.1,"v":-125.2},{"f":4623,"v":-120},{"f":4627.6,"v":-116.6},{"f":4631,"v":-124},{"f":4634.0,"v":-136.3},{"f":4637,"v":-122},
      {"f":4640,"v":-135},{"f":4646,"v":-120},{"f":4652,"v":-121},{"f":4658,"v":-127},{"f":4665,"v":-139},{"f":4671,"v":-122},{"f":4678,"v":-118},{"f":4684,"v":-128},{"f":4691,"v":-125},{"f":4697,"v":-119},{"f":4704,"v":-141},{"f":4710,"v":-124},{"f":4717,"v":-119},{"f":4723,"v":-126},{"f":4730,"v":-127},{"f":4736,"v":-120},{"f":4743,"v":-138},{"f":4749,"v":-123},{"f":4756,"v":-120},{"f":4762,"v":-128},{"f":4769,"v":-117},{"f":4775,"v":-124},{"f":4782,"v":-126},{"f":4788,"v":-119},{"f":4795,"v":-122},{"f":4801,"v":-127},{"f":4808,"v":-131},{"f":4815,"v":-121},{"f":4822,"v":-118},{"f":4828,"v":-126},{"f":4835,"v":-115},{"f":4841,"v":-123},{"f":4848,"v":-135},{"f":4854,"v":-120},{"f":4861,"v":-121},{"f":4868,"v":-128},{"f":4875,"v":-127},{"f":4881,"v":-120},{"f":4888,"v":-124},{"f":4895,"v":-129},{"f":4902,"v":-117},{"f":4908,"v":-125},{"f":4915,"v":-114},{"f":4922,"v":-123},{"f":4929,"v":-130},{"f":4935,"v":-121},{"f":4942,"v":-113},{"f":4949,"v":-127},{"f":4956,"v":-126},{"f":4962,"v":-119},{"f":4969,"v":-117},{"f":4974,"v":-126},{"f":4980,"v":-124},{"f":4984,"v":-118},{"f":4988,"v":-121},{"f":4992,"v":-105},{"f":4995,"v":-91},{"f":4998,"v":-80.2},{"f":5001,"v":-91},{"f":5004,"v":-104},{"f":5007,"v":-135},{"f":5015,"v":-120},{"f":5023,"v":-122},{"f":5030,"v":-127},{"f":5037,"v":-110.4},{"f":5044,"v":-125},{"f":5051,"v":-124},{"f":5058,"v":-119},{"f":5065,"v":-117},{"f":5072,"v":-128},{"f":5079,"v":-127},{"f":5086,"v":-121},{"f":5093,"v":-113.5},{"f":5100,"v":-126},{"f":5107,"v":-125},{"f":5114,"v":-120},{"f":5121,"v":-119},{"f":5128,"v":-125},{"f":5135,"v":-129},{"f":5142,"v":-121},{"f":5149,"v":-120},{"f":5156,"v":-128},{"f":5163,"v":-126},{"f":5170,"v":-119},{"f":5177,"v":-122},{"f":5185,"v":-127},{"f":5192,"v":-115},{"f":5199,"v":-124},{"f":5206,"v":-135.5},{"f":5213,"v":-119},{"f":5220,"v":-121},{"f":5228,"v":-128},{"f":5235,"v":-124},{"f":5242,"v":-120},{"f":5249,"v":-112},{"f":5256,"v":-126},{"f":5264,"v":-128},{"f":5271,"v":-121},{"f":5278,"v":-120},{"f":5285,"v":-127},{"f":5293,"v":-115},{"f":5300,"v":-124},{"f":5307,"v":-125},{"f":5314,"v":-119},{"f":5322,"v":-119},{"f":5329,"v":-127},{"f":5336,"v":-123},{"f":5344,"v":-119},{"f":5351,"v":-117},{"f":5358,"v":-125},{"f":5366,"v":-136.5},{"f":5373,"v":-121},{"f":5381,"v":-122},{"f":5388,"v":-128},{"f":5395,"v":-127},{"f":5403,"v":-120},{"f":5410,"v":-118},{"f":5418,"v":-126},{"f":5425,"v":-141},{"f":5432,"v":-122},{"f":5440,"v":-114},{"f":5447,"v":-125},{"f":5455,"v":-126},{"f":5462,"v":-119},{"f":5470,"v":-120},{"f":5477,"v":-127},{"f":5485,"v":-113.5},{"f":5492,"v":-124},{"f":5500,"v":-135.5},{"f":5508,"v":-120},{"f":5515,"v":-123},{"f":5523,"v":-119},{"f":5531,"v":-128},{"f":5538,"v":-122},{"f":5546,"v":-121},{"f":5553,"v":-127},{"f":5561,"v":-131},{"f":5568,"v":-121},{"f":5576,"v":-141},{"f":5584,"v":-123},{"f":5592,"v":-126},{"f":5599,"v":-119},{"f":5607,"v":-122},{"f":5615,"v":-128},{"f":5622,"v":-130},{"f":5630,"v":-120},{"f":5638,"v":-124},{"f":5645,"v":-118},{"f":5653,"v":-141},{"f":5661,"v":-124},{"f":5669,"v":-115},{"f":5677,"v":-126},{"f":5685,"v":-124},{"f":5692,"v":-120},{"f":5700,"v":-119},{"f":5708,"v":-127},{"f":5716,"v":-113},{"f":5724,"v":-123},{"f":5732,"v":-127},{"f":5740,"v":-120},{"f":5747,"v":-141},{"f":5755,"v":-125},{"f":5763,"v":-121},{"f":5771,"v":-127},{"f":5779,"v":-129},{"f":5787,"v":-120},{"f":5795,"v":-137},{"f":5803,"v":-122},{"f":5811,"v":-123},{"f":5819,"v":-128},{"f":5827,"v":-127},{"f":5835,"v":-121},{"f":5843,"v":-117},{"f":5851,"v":-126},{"f":5859,"v":-124},{"f":5867,"v":-119},{"f":5875,"v":-120},{"f":5883,"v":-127},{"f":5891,"v":-126},{"f":5899,"v":-120},{"f":5907,"v":-118},{"f":5915,"v":-126},{"f":5924,"v":-122},{"f":5932,"v":-127},{"f":5940,"v":-110.6},{"f":5948,"v":-124},{"f":5956,"v":-136.5},{"f":5962,"v":-121},{"f":5967,"v":-111},{"f":5972,"v":-127},{"f":5978,"v":-124},{"f":5983,"v":-120},{"f":5988,"v":-118},{"f":5992,"v":-100},{"f":5995,"v":-92},{"f":5998,"v":-86.1},{"f":6002,"v":-98},{"f":6006,"v":-113},{"f":6014,"v":-124},{"f":6023,"v":-131},{"f":6031,"v":-121},{"f":6040,"v":-120},{"f":6048,"v":-127},{"f":6056,"v":-126},{"f":6065,"v":-119},{"f":6073,"v":-121},{"f":6081,"v":-128},{"f":6090,"v":-115},{"f":6098,"v":-124},{"f":6107,"v":-129},{"f":6115,"v":-120},{"f":6123,"v":-122},{"f":6132,"v":-128},{"f":6140,"v":-127},{"f":6148,"v":-120},{"f":6157,"v":-119},{"f":6165,"v":-126},{"f":6174,"v":-131},{"f":6182,"v":-121},{"f":6191,"v":-123},{"f":6199,"v":-119},{"f":6208,"v":-126},{"f":6216,"v":-121},{"f":6225,"v":-118},{"f":6233,"v":-127},{"f":6242,"v":-114},{"f":6250,"v":-124},{"f":6259,"v":-127},{"f":6268,"v":-120},{"f":6277,"v":-114},{"f":6285,"v":-126},{"f":6294,"v":-124},{"f":6302,"v":-119},{"f":6311,"v":-130},{"f":6320,"v":-122},{"f":6329,"v":-121},{"f":6337,"v":-127},{"f":6346,"v":-126},{"f":6354,"v":-120},{"f":6363,"v":-118},{"f":6372,"v":-126},{"f":6381,"v":-133},{"f":6390,"v":-121},{"f":6399,"v":-122},{"f":6407,"v":-127},{"f":6416,"v":-128},{"f":6425,"v":-120},{"f":6434,"v":-138},{"f":6442,"v":-123},{"f":6451,"v":-117},{"f":6460,"v":-127},{"f":6469,"v":-125},{"f":6478,"v":-119},{"f":6487,"v":-121},{"f":6496,"v":-127},{"f":6505,"v":-129},{"f":6514,"v":-120},{"f":6523,"v":-138},{"f":6532,"v":-123},{"f":6541,"v":-119},{"f":6550,"v":-127},{"f":6559,"v":-124},{"f":6568,"v":-120},{"f":6577,"v":-139},{"f":6586,"v":-123},{"f":6595,"v":-121},{"f":6604,"v":-128},{"f":6613,"v":-127},{"f":6622,"v":-121},{"f":6631,"v":-139.5},{"f":6640,"v":-124},{"f":6649,"v":-115},{"f":6658,"v":-125},{"f":6668,"v":-126},{"f":6677,"v":-119},{"f":6686,"v":-122},{"f":6695,"v":-127},{"f":6704,"v":-130},{"f":6713,"v":-121},{"f":6723,"v":-120},{"f":6732,"v":-126},{"f":6741,"v":-127},{"f":6750,"v":-120},{"f":6760,"v":-123},{"f":6769,"v":-128},{"f":6778,"v":-116},{"f":6787,"v":-124},{"f":6797,"v":-125},{"f":6806,"v":-119},{"f":6816,"v":-131},{"f":6825,"v":-122},{"f":6834,"v":-121},{"f":6843,"v":-127},{"f":6853,"v":-127},{"f":6862,"v":-120},{"f":6872,"v":-141},{"f":6881,"v":-124},{"f":6891,"v":-122},{"f":6900,"v":-127},{"f":6910,"v":-118},{"f":6919,"v":-125},{"f":6929,"v":-116},{"f":6938,"v":-124},{"f":6948,"v":-141},{"f":6957,"v":-121},{"f":6967,"v":-124},{"f":6974,"v":-119},{"f":6980,"v":-120},{"f":6988,"v":-108},{"f":6992,"v":-101},{"f":6996,"v":-93.7},{"f":7000,"v":-106},{"f":7004,"v":-118},{"f":7013,"v":-126},{"f":7023,"v":-124},{"f":7033,"v":-119},{"f":7043,"v":-113},{"f":7053,"v":-125},{"f":7063,"v":-129},{"f":7072,"v":-121},{"f":7082,"v":-114},{"f":7092,"v":-124},{"f":7102,"v":-126},{"f":7111,"v":-120},{"f":7121,"v":-121},{"f":7131,"v":-127},{"f":7141,"v":-131},{"f":7150,"v":-122},{"f":7160,"v":-119},{"f":7170,"v":-126},{"f":7180,"v":-141},{"f":7190,"v":-122},{"f":7200,"v":-124},{"f":7209,"v":-119},{"f":7219,"v":-129},{"f":7229,"v":-121},{"f":7239,"v":-118},{"f":7249,"v":-127},{"f":7259,"v":-126},{"f":7269,"v":-120},{"f":7279,"v":-141},{"f":7289,"v":-124},{"f":7299,"v":-121},{"f":7309,"v":-127},{"f":7319,"v":-127},{"f":7329,"v":-120},{"f":7339,"v":-117},{"f":7350,"v":-126},{"f":7360,"v":-124},{"f":7370,"v":-119},{"f":7380,"v":-132},{"f":7390,"v":-122},{"f":7400,"v":-119},{"f":7410,"v":-127},{"f":7420,"v":-125},{"f":7430,"v":-120},{"f":7441,"v":-141},{"f":7451,"v":-123},{"f":7461,"v":-113},{"f":7471,"v":-125},{"f":7482,"v":-126},{"f":7492,"v":-120},{"f":7502,"v":-120},{"f":7512,"v":-127},{"f":7523,"v":-130},{"f":7533,"v":-121},{"f":7544,"v":-117},{"f":7554,"v":-125},{"f":7565,"v":-125},{"f":7575,"v":-119},{"f":7585,"v":-121},{"f":7596,"v":-127},{"f":7606,"v":-128},{"f":7616,"v":-120},{"f":7627,"v":-119},{"f":7637,"v":-126},{"f":7648,"v":-131},{"f":7658,"v":-122},{"f":7669,"v":-123},{"f":7680,"v":-127},{"f":7690,"v":-118},{"f":7700,"v":-125},{"f":7711,"v":-127},{"f":7722,"v":-120},{"f":7733,"v":-113},{"f":7743,"v":-125},{"f":7754,"v":-124},{"f":7764,"v":-119},{"f":7775,"v":-113},{"f":7786,"v":-126},{"f":7797,"v":-128},{"f":7807,"v":-121},{"f":7818,"v":-141},{"f":7828,"v":-123},{"f":7839,"v":-119},{"f":7850,"v":-127},{"f":7861,"v":-125},{"f":7872,"v":-119},{"f":7883,"v":-122},{"f":7893,"v":-128},{"f":7904,"v":-130},{"f":7915,"v":-121},{"f":7926,"v":-117},{"f":7937,"v":-126},{"f":7948,"v":-137},{"f":7959,"v":-122},{"f":7970,"v":-115},{"f":7981,"v":-124},{"f":7992,"v":-125},{"f":7996,"v":-120},{"f":8000,"v":-119}
    ]
  },
  "layer": [
    {
      "data": {"name": "spectrum"},
      "mark": {"type": "line", "color": "#000000", "strokeWidth": 2, "strokeJoin": "round", "clip": true},
      "encoding": {
        "x": {
          "field": "f", "type": "quantitative",
          "scale": {"type": "log", "domain": [800, 8000], "nice": false},
          "axis": {
            "values": [900, 1000, 2000, 3000, 4000, 5000, 6000, 7000],
            "grid": true,
            "gridColor": {"condition": {"test": "datum.value == 1000", "value": "#808080"}, "value": "#c0c0c0"},
            "labelExpr": "datum.value == 1000 ? '1k' : datum.value == 2000 ? '2k' : datum.value == 5000 ? '5k' : ''",
            "labelFontSize": 20,
            "labelBaseline": "alphabetic",
            "labelPadding": 30.6,
            "labelOverlap": false,
            "labelFlush": false,
            "title": null
          }
        },
        "y": {
          "field": "v", "type": "quantitative",
          "scale": {"domain": [-140, 0], "nice": false, "zero": false},
          "axis": {
            "values": [-140, -120, -100, -80, -60, -40, -20, 0],
            "grid": true,
            "gridColor": {"condition": {"test": "datum.value == 0 || datum.value == -140", "value": "transparent"}, "value": "#808080"},
            "labelExpr": "toString(datum.value) + '.0'",
            "labelFontSize": 20,
            "labelPadding": 9.3,
            "labelBaseline": "middle",
            "labelOverlap": false,
            "labelFlush": false,
            "title": null
          }
        }
      }
    },
    {
      "data": {"values": [{"hz": 2003.91}]},
      "mark": {"type": "rule", "color": "#c8c800", "strokeWidth": 1.2},
      "encoding": {"x": {"field": "hz", "type": "quantitative"}}
    },
    {
      "data": {"values": [{"label": "Spectrum magnitude (dBu)"}]},
      "mark": {"type": "text", "align": "left", "baseline": "alphabetic", "dx": 2, "fontSize": 24.4},
      "encoding": {"x": {"datum": 800}, "y": {"datum": 1.8}, "text": {"field": "label"}}
    },
    {
      "data": {"values": [{"label": "Right\u00a0\u00a0Avg:0"}]},
      "mark": {"type": "text", "align": "right", "baseline": "alphabetic", "dx": -1, "fontSize": 20.8},
      "encoding": {"x": {"datum": 8000}, "y": {"datum": 1.7}, "text": {"field": "label"}}
    },
    {
      "data": {"values": [{"label": "A\nR\nT\nA"}]},
      "mark": {"type": "text", "align": "left", "baseline": "alphabetic", "dx": 5, "fontSize": 20.5, "lineBreak": "\n", "lineHeight": 21.9},
      "encoding": {"x": {"datum": 8000}, "y": {"datum": -3.41}, "text": {"field": "label"}}
    },
    {
      "data": {"values": [{"label": "Cursor: 2003.91 Hz, -50.80 dB"}]},
      "mark": {"type": "text", "align": "left", "baseline": "alphabetic", "dx": 1, "fontSize": 20.8},
      "encoding": {"x": {"datum": 800}, "y": {"datum": -150.17}, "text": {"field": "label"}}
    },
    {
      "data": {"values": [{"label": "F(Hz)"}]},
      "mark": {"type": "text", "align": "right", "baseline": "alphabetic", "dx": -1, "fontSize": 20.8},
      "encoding": {"x": {"datum": 8000}, "y": {"datum": -150.17}, "text": {"field": "label"}}
    },
    {
      "data": {"values": [{"label": "RMS =\u00a0\u00a0\u00a0-5.2 dBu\u00a0\u00a0THD =2.16%\u00a0\u00a0THD+N =2.16%"}]},
      "mark": {"type": "text", "align": "left", "baseline": "alphabetic", "dx": 1, "fontSize": 20.8, "color": "#cc0000"},
      "encoding": {"x": {"datum": 800}, "y": {"datum": -155.56}, "text": {"field": "label"}}
    },
    {
      "data": {"values": [{"label": "Fs=96000Hz, FFTsize=32768, Window=Hanning"}]},
      "mark": {"type": "text", "align": "left", "baseline": "alphabetic", "dx": 1, "fontSize": 20.8},
      "encoding": {"x": {"datum": 800}, "y": {"datum": -160.17}, "text": {"field": "label"}}
    },
    {
      "data": {"values": [{"label": "2021-12-22\u00a0\u00a018:50"}]},
      "mark": {"type": "text", "align": "right", "baseline": "alphabetic", "dx": -1, "fontSize": 20.8},
      "encoding": {"x": {"datum": 8000}, "y": {"datum": -160.17}, "text": {"field": "label"}}
    },
    {
      "data": {"values": [{"label": "L 1W"}]},
      "mark": {"type": "text", "align": "left", "baseline": "alphabetic", "dx": 1, "fontSize": 20.8},
      "encoding": {"x": {"datum": 800}, "y": {"datum": -164.46}, "text": {"field": "label"}}
    }
  ]
}
